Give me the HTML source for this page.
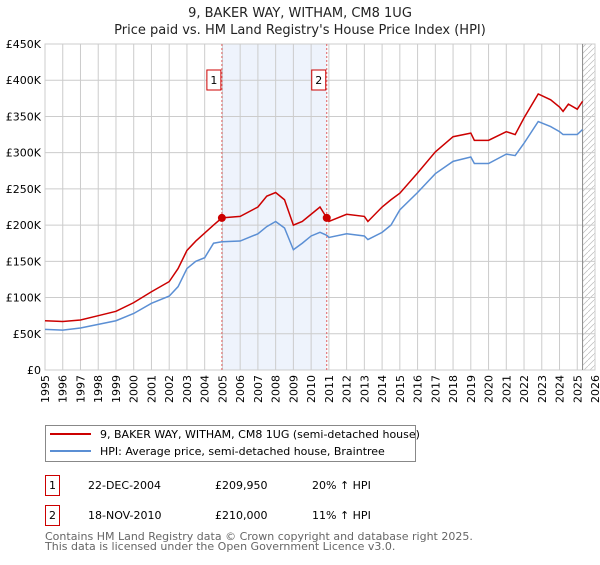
<!DOCTYPE html>
<html><head><meta charset="utf-8"><style>
body{margin:0;background:#fff;font-family:"Liberation Sans","DejaVu Sans",sans-serif;}
.t{font-family:"DejaVu Sans","Liberation Sans",sans-serif;}
</style></head><body>
<svg width="600" height="560" xmlns="http://www.w3.org/2000/svg" class="t" font-family="DejaVu Sans, Liberation Sans, sans-serif">
<text x="300" y="17" text-anchor="middle" font-size="13" fill="#222">9, BAKER WAY, WITHAM, CM8 1UG</text>
<text x="300" y="34" text-anchor="middle" font-size="13" fill="#222">Price paid vs. HM Land Registry's House Price Index (HPI)</text>
<g id="plot"></g>
<g>
<rect x="45.5" y="425.5" width="370" height="36" fill="#fff" stroke="#888"/>
<line x1="50" y1="434" x2="91" y2="434" stroke="#cc0000" stroke-width="2"/>
<text x="100" y="438" font-size="11" fill="#000">9, BAKER WAY, WITHAM, CM8 1UG (semi-detached house)</text>
<line x1="50" y1="451" x2="91" y2="451" stroke="#5b8fd4" stroke-width="2"/>
<text x="100" y="455" font-size="11" fill="#000">HPI: Average price, semi-detached house, Braintree</text>
</g>
<g font-size="11" fill="#000">
<rect x="45.5" y="475.5" width="14" height="20" fill="none" stroke="#cc0000"/>
<text x="52.5" y="489" text-anchor="middle">1</text>
<text x="88" y="489">22-DEC-2004</text><text x="215" y="489">£209,950</text><text x="312" y="489">20% ↑ HPI</text>
<rect x="45.5" y="505.5" width="14" height="20" fill="none" stroke="#cc0000"/>
<text x="52.5" y="519" text-anchor="middle">2</text>
<text x="88" y="519">18-NOV-2010</text><text x="215" y="519">£210,000</text><text x="312" y="519">11% ↑ HPI</text>
</g>
<text x="45" y="540" font-size="11" fill="#666">Contains HM Land Registry data © Crown copyright and database right 2025.</text>
<text x="45" y="550" font-size="11" fill="#666">This data is licensed under the Open Government Licence v3.0.</text>
</svg>
<script>
const years=[1995,1996,1997,1998,1999,2000,2001,2002,2002.5,2003,2003.5,2004,2004.5,2004.97,2006,2007,2007.5,2008,2008.5,2009,2009.5,2010,2010.5,2010.88,2011,2012,2013,2013.2,2014,2014.5,2015,2016,2017,2018,2019,2019.2,2020,2021,2021.5,2022,2022.8,2023.5,2024,2024.2,2024.5,2025,2025.3];
const priceK=[68,67,69,75,81,93,108,122,140,165,178,189,200,209.95,212,225,240,245,235,200,205,215,225,210,205,215,212,205,225,235,244,272,301,322,327,317,317,329,325,348,381,373,363,357,367,360,371];
const hpiK=[56,55,58,63,68,78,92,102,115,140,150,155,175,177,178,188,198,205,196,166,175,185,190,186,183,188,185,180,190,200,221,245,271,288,294,285,285,298,296,313,343,336,329,325,325,325,332];
const yTicks=[0,50,100,150,200,250,300,350,400,450];
const xTicks=[1995,1996,1997,1998,1999,2000,2001,2002,2003,2004,2005,2006,2007,2008,2009,2010,2011,2012,2013,2014,2015,2016,2017,2018,2019,2020,2021,2022,2023,2024,2025,2026];
const sales=[{n:"1",t:2004.97,v:209.95},{n:"2",t:2010.88,v:210}];
const L=45,R=595,T=44,B=370;
const X=t=>L+(t-1995)/(2026-1995)*(R-L);
const Y=v=>B-v/450*(B-T);
const NS="http://www.w3.org/2000/svg";
const g=document.getElementById('plot');
function mk(tag,a){const e=document.createElementNS(NS,tag);for(const k in a)e.setAttribute(k,a[k]);g.appendChild(e);return e;}
let e;
e=mk('rect',{x:X(2004.97),y:T,width:X(2010.88)-X(2004.97),height:B-T,fill:'#eef3fc'});


const defs=document.createElementNS(NS,'defs');defs.innerHTML='<pattern id="h" width="6" height="6" patternUnits="userSpaceOnUse"><path d="M0,6 L6,0" stroke="#bbb" stroke-width="0.7"/></pattern>';g.appendChild(defs);
e=mk('rect',{x:X(2025.3),y:T,width:R-X(2025.3),height:B-T,fill:'url(#h)'});


yTicks.forEach(v=>{
 e=mk('line',{x1:L,x2:R,y1:Y(v),y2:Y(v),stroke:'#ccc'});
 
 
 e=mk('text',{x:L-4,y:Y(v)+4,'text-anchor':'end','font-size':'11',fill:'#000'});
 e.textContent=v===0?'£0':'£'+v+'K';
 
 
});
xTicks.forEach(t=>{
 e=mk('line',{x1:X(t),x2:X(t),y1:T,y2:B,stroke:'#ccc'});
 
 
 e=mk('text',{x:0,y:0,'text-anchor':'end','font-size':'11',fill:'#000',transform:`translate(${X(t)+4},${B+5}) rotate(-90)`});
 e.textContent=t;
 
 
});
e=mk('rect',{x:L,y:T,width:R-L,height:B-T,fill:'none',stroke:'#ccc'});


e=mk('line',{x1:X(2025.3),x2:X(2025.3),y1:T,y2:B,stroke:'#888'});


sales.forEach(s=>{
 e=mk('line',{x1:X(s.t),x2:X(s.t),y1:T,y2:B,stroke:'#e06060','stroke-dasharray':'2,2'});
 
 
});
e=mk('polyline',{points:years.map((t,i)=>X(t)+','+Y(hpiK[i])).join(' '),fill:'none',stroke:'#5b8fd4','stroke-width':'1.5'});


e=mk('polyline',{points:years.map((t,i)=>X(t)+','+Y(priceK[i])).join(' '),fill:'none',stroke:'#cc0000','stroke-width':'1.5'});


sales.forEach(s=>{
 e=mk('circle',{cx:X(s.t),cy:Y(s.v),r:4,fill:'#cc0000'});
 
 
 e=mk('rect',{x:X(s.t)-15,y:T+26,width:14,height:20,fill:'#fff',stroke:'#cc0000'});
 
 
 e=mk('text',{x:X(s.t)-8,y:T+40,'text-anchor':'middle','font-size':'11',fill:'#000'});
 e.textContent=s.n;
 
 
});
</script>
</body></html>
